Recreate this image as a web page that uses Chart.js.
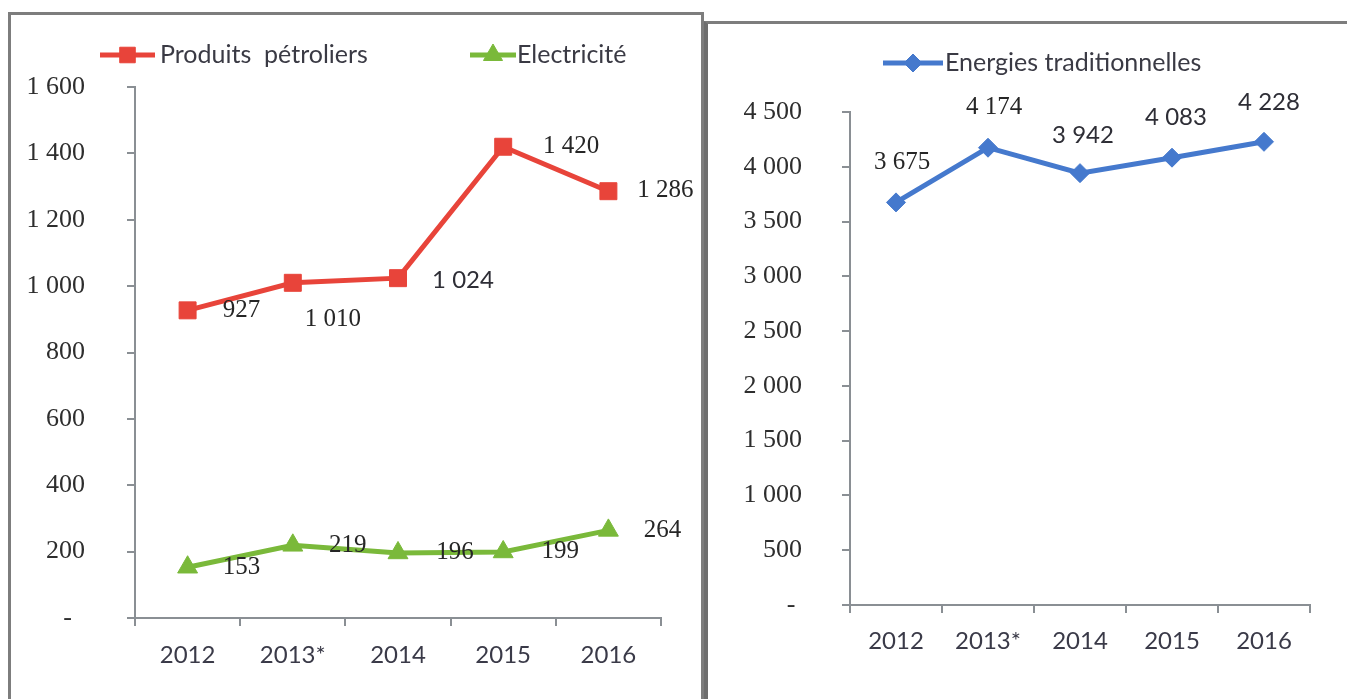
<!DOCTYPE html>
<html><head><meta charset="utf-8">
<script src="https://cdn.jsdelivr.net/npm/chart.js@4.4.1/dist/chart.umd.min.js"></script>
<style>
html,body{margin:0;padding:0;background:#fff;width:1347px;height:699px;overflow:hidden;}
#wrapL{position:absolute;left:0;top:0;width:704px;height:699px;}
#wrapR{position:absolute;left:705px;top:0;width:642px;height:699px;}
.frameL{position:absolute;left:8px;top:12px;width:690px;height:720px;border:3px solid #7d7d7d;pointer-events:none;}
.frameR{position:absolute;left:704px;top:21px;width:700px;height:720px;border-left:4px solid #6e6e6e;border-top:3px solid #7d7d7d;pointer-events:none;}
</style></head>
<body>
<div id="wrapL"><canvas id="cL" width="704" height="699"></canvas></div>
<div id="wrapR"><canvas id="cR" width="642" height="699"></canvas></div>
<div class="frameL"></div>
<div class="frameR"></div>
<script>
const categories = ['2012', '2013*', '2014', '2015', '2016'];
const produitsPetroliers = [927, 1010, 1024, 1420, 1286];
const electricite = [153, 219, 196, 199, 264];
const energiesTraditionnelles = [3675, 4174, 3942, 4083, 4228];
const leftTickValues = [0, 200, 400, 600, 800, 1000, 1200, 1400, 1600];
const rightTickValues = [0, 500, 1000, 1500, 2000, 2500, 3000, 3500, 4000, 4500];

const RED = '#e8443a', GREEN = '#7ab93a', BLUE = '#4579cd';
const AXIS = '#8a8f94';
const SERIF = '"Liberation Serif", "Times New Roman", serif';
const SANS = 'Lato, "Open Sans", sans-serif';

function fmt(v) { return String(v).replace(/\B(?=(\d{3})+(?!\d))/g, ' '); }

const legendPlugin = {
  id: 'xlLegend',
  afterDraw(chart, args, opts) {
    const ctx = chart.ctx;
    ctx.save();
    (opts.items || []).forEach(it => {
      const ds = chart.data.datasets[it.index];
      ctx.strokeStyle = ds.borderColor; ctx.lineWidth = 5; ctx.lineCap = 'butt';
      ctx.beginPath(); ctx.moveTo(it.x1, it.y); ctx.lineTo(it.x2, it.y); ctx.stroke();
      ctx.fillStyle = ds.pointBackgroundColor; ctx.strokeStyle = ds.pointBorderColor || ds.borderColor; ctx.lineWidth = 1;
      Chart.helpers.drawPoint(ctx, {pointStyle: ds.pointStyle, radius: it.r, borderWidth: 1, rotation: 0}, (it.x1 + it.x2) / 2, it.y);
      ctx.fillStyle = '#3a3a44'; ctx.font = '25px ' + SANS; ctx.textBaseline = 'middle'; ctx.textAlign = 'left';
      ctx.fillText(ds.label, it.tx, it.y);
    });
    ctx.restore();
  }
};

const valueLabels = {
  id: 'valueLabels',
  afterDatasetsDraw(chart, args, opts) {
    const ctx = chart.ctx;
    ctx.save();
    ctx.fillStyle = '#262626'; ctx.textAlign = 'center'; ctx.textBaseline = 'middle';
    chart.data.datasets.forEach((ds, di) => {
      const meta = chart.getDatasetMeta(di);
      const off = opts.offsets[di];
      meta.data.forEach((pt, i) => {
        const sans = off[i][2] === 's';
        ctx.font = sans ? '24px ' + SANS : '25px ' + SERIF;
        ctx.fillStyle = sans ? '#2e2e36' : '#262626';
        ctx.fillText(fmt(ds.data[i]), pt.x + off[i][0], pt.y + off[i][1]);
      });
    });
    ctx.restore();
  }
};

function fitW(w) { return function (s) { s.width = w; }; }
function fitH(h) { return function (s) { s.height = h; }; }

function xScale(pad) {
  return {
    type: 'category', offset: true,
    grid: {display: true, drawOnChartArea: false, drawTicks: true, tickLength: 8, color: AXIS, lineWidth: 2, offset: true},
    border: {display: true, color: AXIS, width: 2},
    ticks: {color: '#3a3a48', font: {family: SANS, size: 24}, padding: pad, maxRotation: 0, autoSkip: false},
    afterFit: fitH(60)
  };
}
function yScale(values, pad, zeroLabel, width) {
  const max = values[values.length - 1];
  return {
    min: 0, max: max,
    afterBuildTicks: s => { s.ticks = values.map(v => ({value: v})); },
    grid: {display: true, drawOnChartArea: false, drawTicks: true, tickLength: 8, color: AXIS, lineWidth: 2},
    border: {display: true, color: AXIS, width: 2},
    ticks: {color: '#2e2e2e', font: {family: SERIF, size: 26}, padding: pad,
      callback: v => v === 0 ? zeroLabel : fmt(v)},
    afterFit: fitW(width)
  };
}

const lineBase = {borderWidth: 5, tension: 0, fill: false, pointBorderWidth: 1, pointHoverRadius: 0};

new Chart(document.getElementById('cL'), {
  type: 'line',
  data: {
    labels: categories,
    datasets: [
      Object.assign({}, lineBase, {label: 'Produits  pétroliers', data: produitsPetroliers, borderColor: RED,
        pointBackgroundColor: RED, pointBorderColor: RED, pointStyle: 'rect', pointRadius: 12}),
      Object.assign({}, lineBase, {label: 'Electricité', data: electricite, borderColor: GREEN,
        pointBackgroundColor: GREEN, pointBorderColor: GREEN, pointStyle: 'triangle', pointRadius: 11.5})
    ]
  },
  options: {
    responsive: false, animation: false, events: [],
    layout: {padding: {top: 87, right: 43, bottom: 21, left: 0}},
    scales: {x: xScale(15), y: yScale(leftTickValues, 42, '-  ', 135)},
    plugins: {
      legend: {display: false}, tooltip: {enabled: false},
      xlLegend: {items: [
        {index: 0, x1: 100, x2: 155, y: 55, r: 11, tx: 160},
        {index: 1, x1: 470, x2: 516, y: 55, r: 11, tx: 517}
      ]},
      valueLabels: {offsets: [
        [[54, 0], [40, 37], [65, 2, 's'], [68, 0], [57, -1]],
        [[54, 0], [55, 0], [57, -1], [57, -1], [54, 0]]
      ]}
    }
  },
  plugins: [legendPlugin, valueLabels]
});

new Chart(document.getElementById('cR'), {
  type: 'line',
  data: {
    labels: categories,
    datasets: [
      Object.assign({}, lineBase, {label: 'Energies traditionnelles', data: energiesTraditionnelles, borderColor: BLUE,
        pointBackgroundColor: BLUE, pointBorderColor: BLUE, pointStyle: 'rectRot', pointRadius: 9.5})
    ]
  },
  options: {
    responsive: false, animation: false, events: [],
    layout: {padding: {top: 112, right: 37, bottom: 34, left: 0}},
    scales: {x: xScale(14), y: yScale(rightTickValues, 40, '- ', 145)},
    plugins: {
      legend: {display: false}, tooltip: {enabled: false},
      xlLegend: {items: [
        {index: 0, x1: 178, x2: 238, y: 63, r: 9, tx: 240}
      ]},
      valueLabels: {offsets: [
        [[6, -40], [6, -40], [3, -38, 's'], [4, -40, 's'], [5, -40, 's']]
      ]}
    }
  },
  plugins: [legendPlugin, valueLabels]
});
</script>
</body></html>
